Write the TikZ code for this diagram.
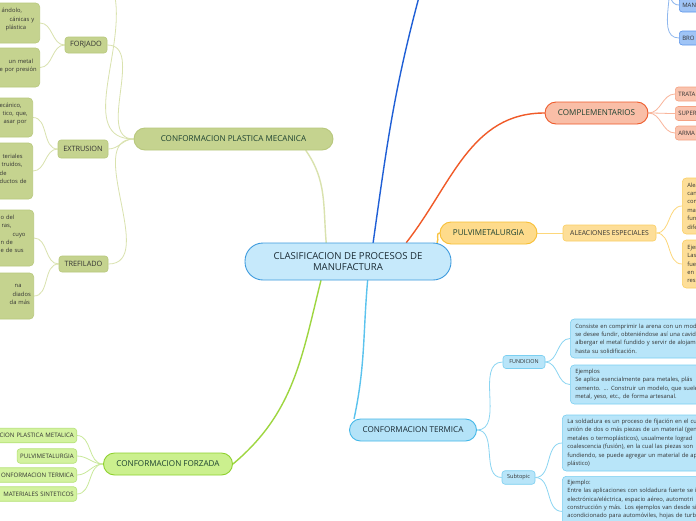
\documentclass[tikz,border=0pt]{standalone}
\usepackage{fontspec}
\setmainfont{Open Sans}
\usetikzlibrary{backgrounds}

\definecolor{inkgreen}{HTML}{1D4231}
\definecolor{inkdark}{HTML}{1A2A33}
\definecolor{inkgrey}{HTML}{333333}
\definecolor{centfill}{HTML}{C6E9FB}
\definecolor{centdraw}{HTML}{3E9BDE}
\definecolor{cpmfill}{HTML}{C5D38F}
\definecolor{cpmdraw}{HTML}{B8C87C}
\definecolor{cpmline}{HTML}{D9E2AE}
\definecolor{forzfill}{HTML}{CBF08E}
\definecolor{forzdraw}{HTML}{8FD12F}
\definecolor{forzline}{HTML}{9ED640}
\definecolor{forzkidfill}{HTML}{D3F29F}
\definecolor{forzkiddraw}{HTML}{B4E276}
\definecolor{forzkidline}{HTML}{C9E99A}
\definecolor{compfill}{HTML}{F9BEA7}
\definecolor{compdraw}{HTML}{EE5A2A}
\definecolor{compline}{HTML}{F05A28}
\definecolor{compkidfill}{HTML}{F9C3AE}
\definecolor{compkiddraw}{HTML}{F5A283}
\definecolor{compkidline}{HTML}{F9B59B}
\definecolor{pulvfill}{HTML}{FEDB8B}
\definecolor{pulvdraw}{HTML}{F8BF34}
\definecolor{pulvline}{HTML}{F9C444}
\definecolor{aefill}{HTML}{FDDE98}
\definecolor{aedraw}{HTML}{FBCF63}
\definecolor{aeline}{HTML}{FDD77A}
\definecolor{ctfill}{HTML}{B4E3F8}
\definecolor{ctdraw}{HTML}{45B8E8}
\definecolor{ctline}{HTML}{5BC3EE}
\definecolor{ctkidfill}{HTML}{B8E5F9}
\definecolor{ctkiddraw}{HTML}{7BCFF1}
\definecolor{ctkidline}{HTML}{8BD5F2}
\definecolor{bluemain}{HTML}{1F5FD6}
\definecolor{bluefill}{HTML}{9FC4F6}
\definecolor{bluedraw}{HTML}{5C95EA}
\definecolor{blueline}{HTML}{8EB7EE}

\tikzset{
  topic/.style={rounded corners=11pt, minimum height=22pt, line width=0.9pt,
    font=\fontsize{8.1}{9}\selectfont, text=inkgreen},
  subtopic/.style={rounded corners=3pt, line width=0.6pt, inner sep=3pt, text=inkgrey},
  leaf/.style={rounded corners=4pt, line width=0.6pt, font=\fontsize{5.8}{8.4}\selectfont,
    text=inkgrey, align=left, inner ysep=3.5pt},
  leftleaf/.style={leaf, anchor=east, text width=80pt, inner xsep=4pt,
    draw=cpmdraw, fill=cpmfill},
  rightleaf/.style={leaf, anchor=west, text width=200pt, inner xsep=5pt},
  forzkid/.style={subtopic, anchor=east, draw=forzkiddraw, fill=forzkidfill,
    minimum height=14.5pt, inner ysep=2pt, font=\fontsize{6.1}{7}\selectfont},
  sidekid/.style={subtopic, anchor=west, minimum height=14pt, text width=40pt,
    align=left, font=\fontsize{6}{7}\selectfont},
  branch/.style={line width=1.4pt, line cap=round},
  twig/.style={line width=0.8pt},
}
\newcommand{\frag}[2]{\hspace*{#1pt}\mbox{#2}}

\begin{document}
\begin{tikzpicture}[x=1pt,y=-1pt]
\useasboundingbox (0,0) rectangle (696,520);

% centre
\node[draw=centdraw, fill=centfill, rounded corners=18pt, line width=0.9pt,
  minimum width=206pt, minimum height=37pt, align=center,
  font=\fontsize{9.6}{11}\selectfont, text=inkdark] (centre) at (348,261.5)
  {CLASIFICACION DE PROCESOS DE\\MANUFACTURA};

% main topics
\node[topic, draw=cpmdraw, fill=cpmfill, minimum width=199pt] (cpm) at (233.5,139) {CONFORMACION PLASTICA MECANICA};
\node[topic, draw=forzdraw, fill=forzfill, minimum width=129pt] (forzada) at (168,464) {CONFORMACION FORZADA};
\node[topic, draw=compdraw, fill=compfill, minimum width=103pt] (comp) at (596.5,113) {COMPLEMENTARIOS};
\node[topic, draw=pulvdraw, fill=pulvfill, minimum width=97pt] (pulv) at (488.5,233) {PULVIMETALURGIA};
\node[topic, draw=ctdraw, fill=ctfill, minimum width=127pt, text=inkdark] (termica) at (413,430) {CONFORMACION TERMICA};

% plastica mecanica
\node[subtopic, draw=cpmdraw, fill=cpmfill, font=\fontsize{7.3}{8}\selectfont, minimum width=42pt, minimum height=16pt] (forjado) at (86,45) {FORJADO};
\node[subtopic, draw=cpmdraw, fill=cpmfill, font=\fontsize{7.3}{8}\selectfont, minimum width=50pt, minimum height=18pt] (extrusion) at (83,149) {EXTRUSION};
\node[subtopic, draw=cpmdraw, fill=cpmfill, font=\fontsize{7.3}{8}\selectfont, minimum width=49pt, minimum height=16pt] (trefilado) at (83.5,264) {TREFILADO};

\node[leftleaf, minimum height=40pt] (forjadoa) at (40,23)
  {\frag{46}{ándolo,}\\\frag{54}{cánicas y}\\\frag{50}{plástica}\\\mbox{}};
\node[leftleaf, minimum height=39pt] (forjadob) at (40,67.5)
  {\mbox{}\\\frag{53}{un metal}\\\frag{44}{e por presión}\\\mbox{}};
\node[leftleaf, minimum height=39pt] (extrusiona) at (33,117.5)
  {\frag{51}{ecánico,}\\\frag{54}{tico, que,}\\\frag{55}{asar por}\\\mbox{}};
\node[leftleaf, minimum height=56pt] (extrusionb) at (33,171)
  {\mbox{}\\\frag{54}{teriales}\\\frag{53}{truidos,}\\\frag{51}{de}\\\frag{51}{ductos de}\\\mbox{}};
\node[leftleaf, minimum height=56pt] (trefiladoa) at (34,238)
  {\frag{51}{o del}\\\frag{52}{ras,}\\\frag{63}{cuyo}\\\frag{51}{n de}\\\frag{51}{e de sus}\\\mbox{}};
\node[leftleaf, minimum height=46pt] (trefiladob) at (34,296)
  {\mbox{}\\\frag{65}{na}\\\frag{63}{diados}\\\frag{60}{da más}\\\mbox{}};

% forzada
\node[forzkid, text width=90pt, align=right] (forzplastica) at (77,435.5) {CION PLASTICA METALICA};
\node[forzkid] (forzpulv) at (77,456) {PULVIMETALURGIA};
\node[forzkid, text width=90pt, align=right] (forztermica) at (77,475) {ONFORMACION TERMICA};
\node[forzkid, text width=90pt, align=right] (forzsint) at (77,494) {MATERIALES SINTETICOS};

% termica
\node[subtopic, draw=ctkiddraw, fill=ctkidfill, font=\fontsize{5.4}{6}\selectfont, minimum width=42pt, minimum height=13pt] (fundicion) at (524,362) {FUNDICION};
\node[subtopic, draw=ctkiddraw, fill=ctkidfill, font=\fontsize{5.6}{6}\selectfont, minimum width=33pt, minimum height=13.5pt] (subtopico) at (518.5,477.5) {Subtopic};

\node[rightleaf, draw=ctkiddraw, fill=ctkidfill, minimum height=39pt] (fundiciona) at (570,338.5)
  {Consiste en comprimir la arena con un mod\\se desee fundir, obteniéndose así una cavid\\albergar el metal fundido y servir de alojam\\hasta su solidificación.};
\node[rightleaf, draw=ctkiddraw, fill=ctkidfill, minimum height=39pt] (fundicionb) at (570,384.5)
  {Ejemplos\\Se aplica esencialmente para metales, plás\\cemento. ... Construir un modelo, que suele\\metal, yeso, etc., de forma artesanal.};
\node[rightleaf, draw=ctkiddraw, fill=ctkidfill, minimum height=56pt] (soldaduraa) at (562,443)
  {La soldadura es un proceso de fijación en el cua\\unión de dos o más piezas de un material (gen\\metales o termoplásticos), usualmente lograd\\coalescencia (fusión), en la cual las piezas son\\fundiendo, se puede agregar un material de ap\\plástico)};
\node[rightleaf, anchor=north west, draw=ctkiddraw, fill=ctkidfill] (soldadurab) at (562,476)
  {Ejemplo:\\Entre las aplicaciones con soldadura fuerte se i\\electrónica/eléctrica, espacio aéreo, automotri\\construcción y más. Los ejemplos van desde sis\\acondicionado para automóviles, hojas de turb\\\mbox{}\\\mbox{}\\\mbox{}};

% pulvimetalurgia
\node[subtopic, draw=aedraw, fill=aefill, font=\fontsize{6.8}{7}\selectfont, minimum width=93pt, minimum height=16pt] (aleaciones) at (609.5,233) {ALEACIONES ESPECIALES};
\node[rightleaf, draw=aedraw, fill=aefill, minimum height=56pt] (aleacionesa) at (682,206)
  {Alea\\can\\com\\mat\\fun\\dife};
\node[rightleaf, draw=aedraw, fill=aefill, minimum height=48pt] (aleacionesb) at (682,264)
  {Ejem\\Las\\fue\\en t\\resi};

% complementarios
\node[sidekid, draw=compkiddraw, fill=compkidfill] (tratamiento) at (675,94) {TRATA};
\node[sidekid, draw=compkiddraw, fill=compkidfill] (superficie) at (675,113.5) {SUPER};
\node[sidekid, draw=compkiddraw, fill=compkidfill] (armado) at (675,133) {ARMA};

% top blue branch
\node[sidekid, draw=bluedraw, fill=bluefill] (manual) at (679,5) {MAN};
\node[sidekid, draw=bluedraw, fill=bluefill] (bronce) at (679,38) {BRO};

\coordinate (bluetop) at (419,-3);
\coordinate (bluehub) at (658,-30);
\coordinate (olivetop) at (115,-3);

\begin{scope}[on background layer]
\fill[white] (0,0) rectangle (696,520);
% main branches
\draw[branch, cpmline] (centre.139) to[out=95,in=-55] (cpm.-9);
\draw[branch, forzline] (centre.215) to[out=-104,in=40] (forzada.east);
\draw[branch, bluemain] (centre.37) to[out=82,in=-105] (bluetop);
\draw[branch, compline] (centre.18) to[out=52,in=180] (comp.west);
\draw[branch, pulvline] (centre.12) to[out=60,in=180] (pulv.west);
\draw[branch, ctline] (centre.-44) to[out=-95,in=78] (termica.169);
% plastica mecanica
\foreach \kid in {forjado,extrusion,trefilado}
  \draw[twig, cpmline] (cpm.west) to[out=180,in=0] (\kid.east);
\draw[twig, cpmline] (cpm.west) to[out=180,in=-80] (olivetop);
\draw[twig, cpmline] (forjado.west) to[out=180,in=0] (forjadoa.east);
\draw[twig, cpmline] (forjado.west) to[out=180,in=0] (forjadob.east);
\draw[twig, cpmline] (extrusion.west) to[out=180,in=0] (extrusiona.east);
\draw[twig, cpmline] (extrusion.west) to[out=180,in=0] (extrusionb.east);
\draw[twig, cpmline] (trefilado.west) to[out=180,in=0] (trefiladoa.east);
\draw[twig, cpmline] (trefilado.west) to[out=180,in=0] (trefiladob.east);
% forzada
\foreach \kid in {forzplastica,forzpulv,forztermica,forzsint}
  \draw[twig, forzkidline] (forzada.west) to[out=180,in=0] (\kid.east);
% termica
\draw[twig, ctkidline] (termica.east) to[out=0,in=180] (fundicion.west);
\draw[twig, ctkidline] (termica.east) to[out=0,in=180] (subtopico.west);
\draw[twig, ctkidline] (fundicion.east) to[out=0,in=180] (fundiciona.west);
\draw[twig, ctkidline] (fundicion.east) to[out=0,in=180] (fundicionb.west);
\draw[twig, ctkidline] (subtopico.east) to[out=0,in=180] (soldaduraa.west);
\draw[twig, ctkidline] (subtopico.east) to[out=0,in=180] (soldadurab.west);
% pulvimetalurgia
\draw[twig, aeline] (pulv.east) -- (aleaciones.west);
\draw[twig, aeline] (aleaciones.east) to[out=0,in=180] (aleacionesa.west);
\draw[twig, aeline] (aleaciones.east) to[out=0,in=180] (aleacionesb.west);
% complementarios
\foreach \kid in {tratamiento,superficie,armado}
  \draw[twig, compkidline] (comp.east) to[out=0,in=180] (\kid.west);
% top blue
\draw[twig, blueline] (bluehub) to[out=0,in=180] (manual.west);
\draw[twig, blueline] (bluehub) to[out=0,in=180] (bronce.west);
\end{scope}
\end{tikzpicture}
\end{document}
